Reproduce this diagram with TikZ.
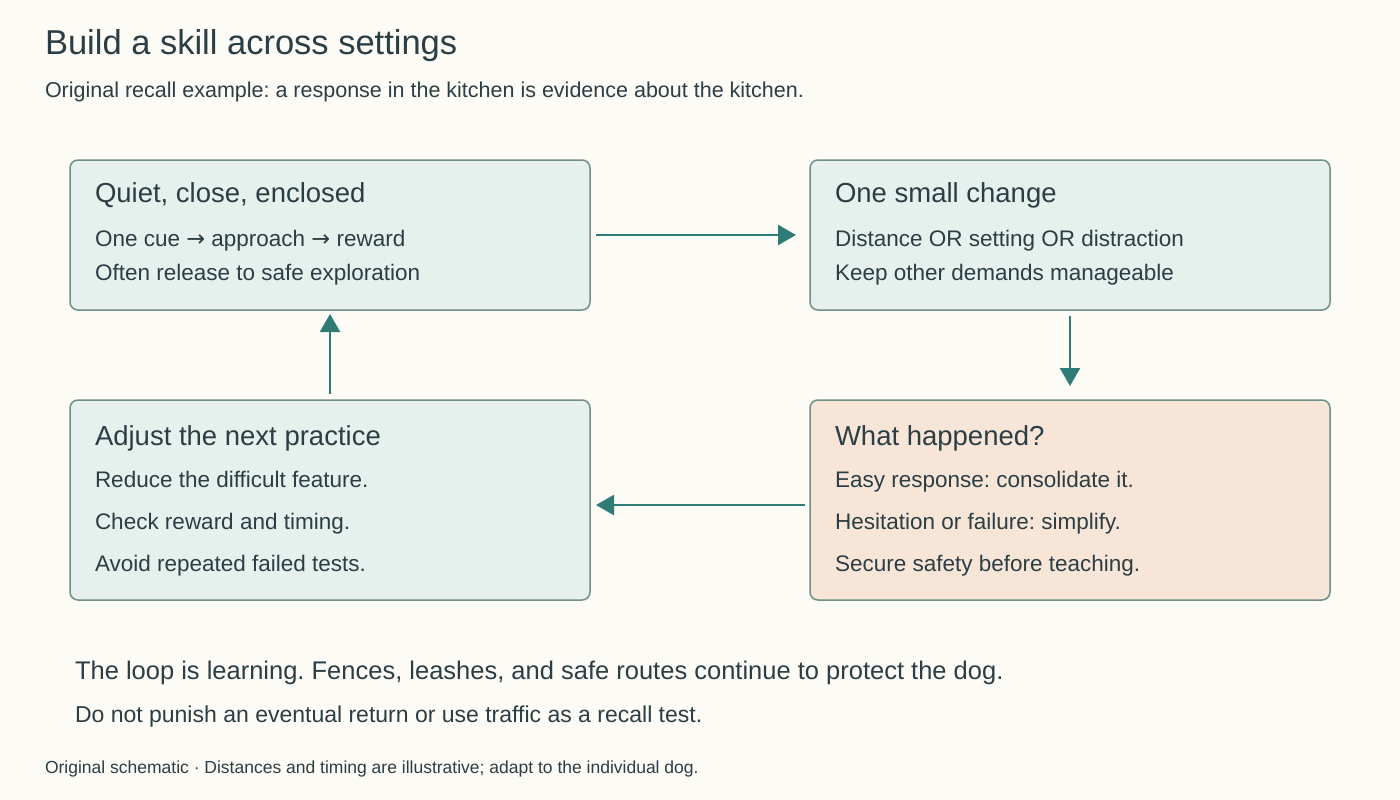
\documentclass[tikz,border=0pt]{standalone}
\usepackage{fontspec}
\setmainfont{Liberation Sans}
\newfontfamily\symf{DejaVu Sans}
\frenchspacing
\usetikzlibrary{arrows.meta}
\definecolor{bg}{HTML}{FDFBF5}
\definecolor{ink}{HTML}{2B3E45}
\definecolor{boxf}{HTML}{E6F0EC}
\definecolor{boxd}{HTML}{6E9088}
\definecolor{warm}{HTML}{F7E6D8}
\definecolor{arr}{HTML}{2F7C77}
\newcommand{\rar}{{\symf →}}
\begin{document}
\begin{tikzpicture}[x=1pt,y=-1pt,inner sep=0pt,outer sep=0pt,
  box/.style={draw=boxd,line width=1.5pt,rounded corners=8pt,fill=boxf},
  frame/.style={minimum width=520pt,minimum height=#1},
  hd/.style={anchor=base west,text=ink,font=\fontsize{27.5}{32}\selectfont},
  bd/.style={anchor=base west,text=ink,font=\fontsize{22.5}{26}\selectfont},
  link/.style={draw=arr,line width=2.5pt,-{Triangle[length=18pt,width=20pt]}}]
\fill[bg] (0,0) rectangle (1400,800);
\useasboundingbox (0,0) rectangle (1400,800);
\node[anchor=base west,text=ink,font=\fontsize{34.5}{40}\selectfont] (t) at (45,55) {Build a skill across settings};
\node[anchor=base west,text=ink,font=\fontsize{21.5}{25}\selectfont] (s) at (45,97) {Original recall example: a response in the kitchen is evidence about the kitchen.};
\draw[box] (70,160) rectangle (590,310);
\node[frame=150pt] (a) at (330,235) {};
\node[hd] at (95,202) {Quiet, close, enclosed};
\node[bd] at (95,246) {One cue \rar{} approach \rar{} reward};
\node[bd] at (95,280) {Often release to safe exploration};
\draw[box] (810,160) rectangle (1330,310);
\node[frame=150pt] (b) at (1070,235) {};
\node[hd] at (835,202) {One small change};
\node[bd] at (835,246) {Distance OR setting OR distraction};
\node[bd] at (835,280) {Keep other demands manageable};
\draw[box,fill=warm] (810,400) rectangle (1330,600);
\node[frame=200pt] (c) at (1070,500) {};
\node[hd] at (835,445) {What happened?};
\node[bd] at (835,487) {Easy response: consolidate it.};
\node[bd] at (835,529) {Hesitation or failure: simplify.};
\node[bd] at (835,571) {Secure safety before teaching.};
\draw[box] (70,400) rectangle (590,600);
\node[frame=200pt] (d) at (330,500) {};
\node[hd] at (95,445) {Adjust the next practice};
\node[bd] at (95,487) {Reduce the difficult feature.};
\node[bd] at (95,529) {Check reward and timing.};
\node[bd] at (95,571) {Avoid repeated failed tests.};
\draw[link] ([xshift=6pt]a.east) -- ([xshift=-14pt]b.west);
\draw[link] ([yshift=-6pt]b.south) -- ([yshift=14pt]c.north);
\draw[link] ([xshift=-5pt,yshift=-5pt]c.west) -- ([xshift=6pt,yshift=-5pt]d.east);
\draw[link] ([yshift=6pt]d.north) -- ([yshift=-4pt]a.south);
\node[anchor=base west,text=ink,font=\fontsize{25.5}{30}\selectfont] (n1) at (75,679) {The loop is learning. Fences, leashes, and safe routes continue to protect the dog.};
\node[anchor=base west,text=ink,font=\fontsize{23}{27}\selectfont] (n2) at (75,722) {Do not punish an eventual return or use traffic as a recall test.};
\node[anchor=base west,text=ink,font=\fontsize{17.5}{21}\selectfont] (f) at (45,773) {Original schematic · Distances and timing are illustrative; adapt to the individual dog.};
\end{tikzpicture}
\end{document}
